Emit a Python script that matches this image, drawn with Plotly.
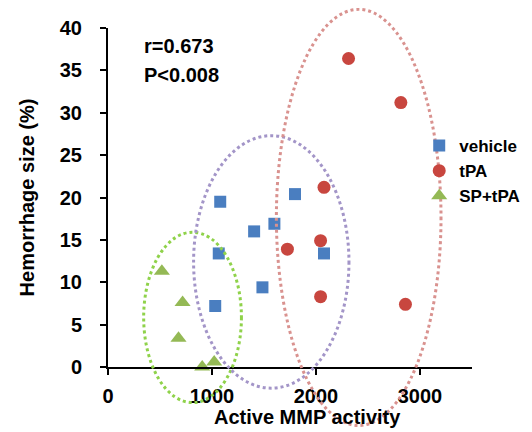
import plotly.graph_objects as go

# Data
vehicle_x = [1079, 1065, 1031, 1405, 1600, 1798, 1485, 2077]
vehicle_y = [19.5, 13.4, 7.2, 16.0, 16.9, 20.4, 9.4, 13.4]
tpa_x = [2313, 2816, 2077, 2044, 1725, 2044, 2860]
tpa_y = [36.4, 31.2, 21.2, 14.9, 13.9, 8.3, 7.4]
sp_x = [518, 717, 678, 906, 1021]
sp_y = [11.3, 7.6, 3.4, 0.0, 0.6]

x_range = [0, 3500]
y_range = [0, 40]
x_ticks = [0, 1000, 2000, 3000]
y_ticks = [0, 5, 10, 15, 20, 25, 30, 35, 40]

# Group ellipses (data units): x0, x1, y0, y1
ell_green = [343, 1283, -4.2, 15.9]
ell_purple = [823, 2317, -2.5, 27.3]
ell_red = [1619, 3202, -6.9, 42.2]

FONT = "Liberation Sans, Arial, sans-serif"

fig = go.Figure()
fig.add_trace(go.Scatter(x=vehicle_x, y=vehicle_y, mode="markers", name="vehicle",
                         marker=dict(symbol="square", size=12, color="#4A7EC0"), cliponaxis=False))
fig.add_trace(go.Scatter(x=tpa_x, y=tpa_y, mode="markers", name="tPA",
                         marker=dict(symbol="circle", size=13, color="#C8463F"), cliponaxis=False))
fig.add_trace(go.Scatter(x=sp_x, y=sp_y, mode="markers", name="SP+tPA",
                         marker=dict(symbol="triangle-up", size=14, color="#94B955"), cliponaxis=False))


def px(v):
    return (v - x_range[0]) / (x_range[1] - x_range[0])


def py(v):
    return (v - y_range[0]) / (y_range[1] - y_range[0])


for e, c in [(ell_green, "#8FD24A"), (ell_purple, "#A395C8"), (ell_red, "#D9928F")]:
    fig.add_shape(type="circle", xref="paper", yref="paper",
                  x0=px(e[0]), x1=px(e[1]), y0=py(e[2]), y1=py(e[3]),
                  line=dict(color=c, width=3, dash="dot"), layer="above")

fig.add_annotation(x=330, y=37.9, xref="x", yref="y", text="<b>r=0.673</b>",
                   showarrow=False, xanchor="left", font=dict(size=20, color="black", family=FONT))
fig.add_annotation(x=330, y=34.4, xref="x", yref="y", text="<b>P<0.008</b>",
                   showarrow=False, xanchor="left", font=dict(size=20, color="black", family=FONT))
fig.add_annotation(x=0.548, y=-0.11, xref="paper", yref="paper", text="<b>Active MMP activity</b>",
                   showarrow=False, xanchor="center", yanchor="top",
                   font=dict(size=20, color="black", family=FONT))

fig.update_layout(
    width=524, height=424,
    margin=dict(l=100, r=60, t=20, b=65, autoexpand=False),
    paper_bgcolor="white", plot_bgcolor="white",
    font=dict(family=FONT, color="black"),
    showlegend=True,
    legend=dict(x=0.855, y=0.705, xanchor="left", yanchor="top",
                font=dict(size=17, family=FONT, color="black", weight="bold"),
                bgcolor="rgba(0,0,0,0)", tracegroupgap=0),
    xaxis=dict(range=x_range, tickvals=x_ticks, ticktext=[str(v) for v in x_ticks],
               showline=True, linecolor="black", linewidth=2, ticks="outside",
               ticklen=6, tickwidth=2, tickcolor="black", showgrid=False, zeroline=False,
               tickfont=dict(size=20, family=FONT, weight="bold"), automargin=False,
               ticklabelstandoff=4),
    yaxis=dict(range=y_range, tickvals=y_ticks, ticktext=[str(v) for v in y_ticks],
               showline=True, linecolor="black", linewidth=2, ticks="outside",
               ticklen=6, tickwidth=2, tickcolor="black", showgrid=False, zeroline=False,
               tickfont=dict(size=20, family=FONT, weight="bold"), automargin=False,
               ticklabelstandoff=14,
               title=dict(text="<b>Hemorrhage size (%)</b>", font=dict(size=20, family=FONT), standoff=20)),
)

fig.write_html("out.html")
